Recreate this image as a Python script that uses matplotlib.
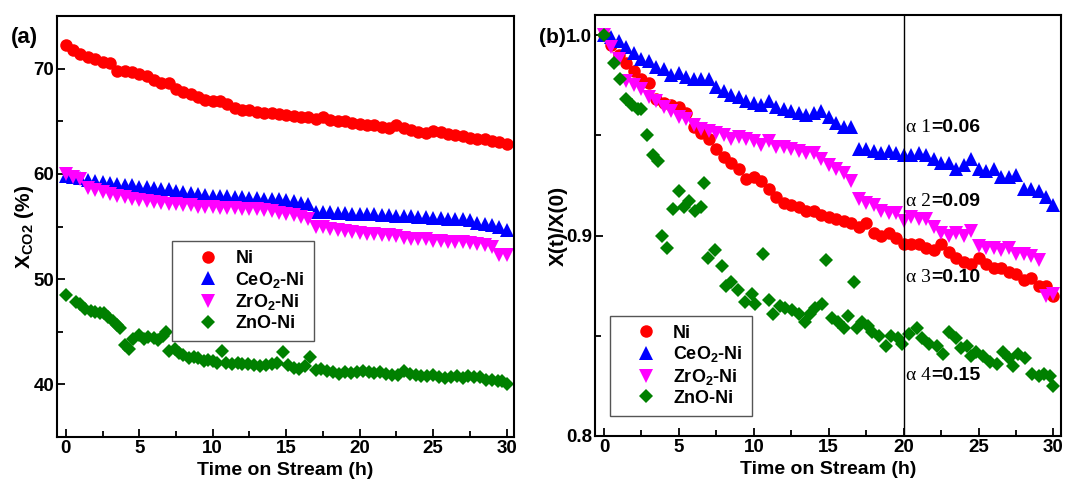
import matplotlib
matplotlib.use("Agg")
import matplotlib.pyplot as plt
from matplotlib.ticker import MultipleLocator

plt.rcParams["font.family"] = ["Liberation Sans", "DejaVu Sans"]
plt.rcParams["font.weight"] = "bold"
plt.rcParams["mathtext.default"] = "regular"

# temps commun (h), pas de 0.5 h
TIME = [0.0, 0.5, 1.0, 1.5, 2.0, 2.5, 3.0, 3.5, 4.0, 4.5, 5.0, 5.5, 6.0, 6.5,
        7.0, 7.5, 8.0, 8.5, 9.0, 9.5, 10.0, 10.5, 11.0, 11.5, 12.0, 12.5,
        13.0, 13.5, 14.0, 14.5, 15.0, 15.5, 16.0, 16.5, 17.0, 17.5, 18.0,
        18.5, 19.0, 19.5, 20.0, 20.5, 21.0, 21.5, 22.0, 22.5, 23.0, 23.5,
        24.0, 24.5, 25.0, 25.5, 26.0, 26.5, 27.0, 27.5, 28.0, 28.5, 29.0,
        29.5, 30.0]

LABELS = ["Ni", "CeO$_{2}$-Ni", "ZrO$_{2}$-Ni", "ZnO-Ni"]

# --- panneau (a) : conversion CO2 (%) ---
ni_a = [72.2, 71.8, 71.4, 71.1, 70.9, 70.6, 70.5, 69.8, 69.8, 69.7, 69.5,
        69.3, 68.9, 68.6, 68.6, 68.1, 67.8, 67.6, 67.3, 67.0, 66.9, 66.9,
        66.6, 66.3, 66.1, 66.1, 65.9, 65.8, 65.8, 65.7, 65.6, 65.5, 65.4,
        65.4, 65.2, 65.4, 65.1, 65.0, 65.0, 64.8, 64.7, 64.6, 64.6, 64.5,
        64.4, 64.6, 64.4, 64.2, 64.0, 63.9, 64.1, 64.0, 63.8, 63.7, 63.6,
        63.4, 63.3, 63.3, 63.1, 63.0, 62.8]
ceo2_a = [59.8, 59.7, 59.6, 59.4, 59.3, 59.2, 59.1, 59.0, 58.9, 58.9, 58.8,
          58.8, 58.7, 58.6, 58.6, 58.4, 58.3, 58.2, 58.1, 58.0, 57.9, 57.9,
          57.9, 57.8, 57.8, 57.7, 57.7, 57.6, 57.6, 57.6, 57.5, 57.4, 57.2,
          57.1, 56.4, 56.4, 56.4, 56.3, 56.3, 56.2, 56.2, 56.2, 56.2, 56.1,
          56.1, 56.0, 56.0, 56.0, 55.9, 55.9, 55.8, 55.8, 55.7, 55.7, 55.7,
          55.6, 55.3, 55.2, 55.1, 55.0, 54.7]
zro2_a = [60.0, 59.7, 59.5, 58.7, 58.5, 58.3, 58.1, 57.9, 57.8, 57.6, 57.5,
          57.4, 57.3, 57.2, 57.1, 57.1, 57.0, 57.0, 56.9, 56.9, 56.9, 56.8,
          56.8, 56.8, 56.7, 56.7, 56.7, 56.6, 56.5, 56.3, 56.2, 56.1, 55.9,
          55.7, 55.0, 55.0, 54.8, 54.7, 54.6, 54.5, 54.4, 54.3, 54.3, 54.2,
          54.2, 54.1, 53.9, 53.8, 53.8, 53.8, 53.6, 53.6, 53.5, 53.5, 53.5,
          53.4, 53.3, 53.2, 53.1, 52.3, 52.3]
TIME_ZNO_A = [0.0, 0.7, 1.0, 1.3, 1.7, 2.0, 2.3, 2.6, 2.9, 3.2, 3.5, 3.7,
              4.0, 4.3, 4.6, 5.0, 5.3, 5.6, 6.0, 6.3, 6.6, 6.8, 7.0, 7.4,
              7.7, 8.0, 8.4, 8.7, 9.0, 9.4, 9.7, 10.0, 10.3, 10.6, 10.9,
              11.3, 11.7, 12.0, 12.4, 12.8, 13.2, 13.6, 14.0, 14.4, 14.8,
              15.1, 15.5, 15.9, 16.3, 16.6, 17.0, 17.4, 17.8, 18.2, 18.6,
              19.0, 19.4, 19.8, 20.2, 20.6, 21.0, 21.4, 21.8, 22.2, 22.6,
              23.0, 23.4, 23.8, 24.2, 24.6, 25.0, 25.4, 25.8, 26.2, 26.6,
              27.0, 27.4, 27.8, 28.2, 28.6, 29.0, 29.4, 29.7, 30.0]
zno_a = [48.5, 47.8, 47.6, 47.2, 47.0, 46.9, 46.8, 46.8, 46.4, 46.0, 45.6,
         45.4, 43.7, 43.4, 44.3, 44.7, 44.3, 44.5, 44.4, 44.2, 44.6, 45.0,
         43.2, 43.4, 43.0, 42.8, 42.5, 42.6, 42.5, 42.2, 42.3, 42.2, 42.0,
         43.2, 42.0, 41.9, 42.0, 41.9, 41.9, 41.8, 41.7, 41.8, 41.9, 42.0,
         43.1, 41.8, 41.6, 41.5, 41.7, 42.6, 41.4, 41.5, 41.3, 41.2, 41.0,
         41.2, 41.1, 41.2, 41.3, 41.2, 41.1, 41.2, 41.0, 40.9, 40.9, 41.3,
         41.0, 40.9, 40.8, 40.8, 40.9, 40.7, 40.6, 40.7, 40.8, 40.6, 40.8,
         40.7, 40.7, 40.4, 40.4, 40.3, 40.3, 40.0]

# --- panneau (b) : conversion normalisee X(t)/X(0) ---
ni_b = [1.000, 0.995, 0.990, 0.986, 0.982, 0.978, 0.976, 0.968, 0.966,
        0.965, 0.964, 0.961, 0.954, 0.951, 0.948, 0.943, 0.939, 0.936,
        0.933, 0.928, 0.929, 0.927, 0.923, 0.919, 0.916, 0.915, 0.914,
        0.912, 0.912, 0.910, 0.909, 0.908, 0.907, 0.906, 0.904, 0.906,
        0.901, 0.900, 0.901, 0.899, 0.896, 0.896, 0.896, 0.894, 0.893,
        0.896, 0.892, 0.889, 0.887, 0.886, 0.889, 0.886, 0.884, 0.884,
        0.882, 0.881, 0.878, 0.879, 0.875, 0.875, 0.870]
ceo2_b = [1.000, 0.999, 0.997, 0.994, 0.991, 0.988, 0.987, 0.984, 0.983,
          0.980, 0.981, 0.979, 0.978, 0.978, 0.978, 0.974, 0.972, 0.970,
          0.969, 0.967, 0.966, 0.965, 0.967, 0.964, 0.963, 0.962, 0.961,
          0.960, 0.961, 0.962, 0.959, 0.956, 0.954, 0.954, 0.943, 0.943,
          0.942, 0.941, 0.942, 0.941, 0.940, 0.940, 0.941, 0.940, 0.938,
          0.936, 0.936, 0.933, 0.935, 0.938, 0.933, 0.932, 0.933, 0.929,
          0.929, 0.930, 0.923, 0.923, 0.922, 0.919, 0.915]
zro2_b = [1.000, 0.994, 0.988, 0.977, 0.975, 0.973, 0.969, 0.967, 0.964,
          0.962, 0.959, 0.958, 0.955, 0.953, 0.952, 0.951, 0.950, 0.948,
          0.949, 0.948, 0.947, 0.945, 0.947, 0.944, 0.944, 0.943, 0.942,
          0.941, 0.941, 0.938, 0.935, 0.933, 0.931, 0.927, 0.918, 0.916,
          0.915, 0.912, 0.911, 0.911, 0.907, 0.909, 0.908, 0.908, 0.904,
          0.901, 0.900, 0.901, 0.900, 0.902, 0.895, 0.894, 0.894, 0.893,
          0.894, 0.891, 0.891, 0.890, 0.888, 0.870, 0.871]
TIME_ZNO_B = [0.0, 0.67, 1.05, 1.45, 1.9, 2.25, 2.5, 2.85, 3.25, 3.6, 3.9,
              4.2, 4.6, 5.0, 5.35, 5.7, 6.05, 6.45, 6.7, 6.95, 7.4, 7.85,
              8.15, 8.5, 8.95, 9.4, 9.85, 10.1, 10.6, 11.0, 11.3, 11.75,
              12.1, 12.55, 13.0, 13.4, 13.75, 14.1, 14.55, 14.85, 15.2,
              15.65, 16.0, 16.3, 16.7, 16.9, 17.25, 17.6, 17.9, 18.35, 18.8,
              19.15, 19.6, 19.9, 20.35, 20.9, 21.25, 21.7, 22.25, 22.6,
              23.05, 23.5, 23.85, 24.2, 24.5, 24.85, 25.3, 25.75, 26.2,
              26.65, 27.0, 27.3, 27.65, 28.1, 28.55, 29.0, 29.35, 29.8, 30.0]
zno_b = [1.000, 0.986, 0.978, 0.968, 0.965, 0.963, 0.963, 0.950, 0.940,
         0.937, 0.900, 0.894, 0.913, 0.922, 0.914, 0.917, 0.912, 0.914,
         0.926, 0.889, 0.893, 0.885, 0.875, 0.877, 0.873, 0.867, 0.871,
         0.866, 0.891, 0.868, 0.861, 0.865, 0.864, 0.863, 0.861, 0.857,
         0.861, 0.864, 0.866, 0.888, 0.859, 0.857, 0.854, 0.860, 0.877,
         0.854, 0.857, 0.855, 0.852, 0.850, 0.845, 0.850, 0.849, 0.846,
         0.851, 0.854, 0.849, 0.846, 0.845, 0.841, 0.852, 0.849, 0.844,
         0.845, 0.840, 0.842, 0.840, 0.837, 0.836, 0.842, 0.839, 0.835,
         0.841, 0.839, 0.831, 0.830, 0.831, 0.830, 0.825]

ALPHA_NAMES = ["\u03b1 1", "\u03b1 2", "\u03b1 3", "\u03b1 4"]
ALPHA_VALUES = ["=0.06", "=0.09", "=0.10", "=0.15"]
ALPHA_Y = [0.954, 0.917, 0.879, 0.830]

COLORS = ["#ff0000", "#0000ff", "#ff00ff", "#008000"]
MARKERS = ["o", "^", "v", "D"]
SIZES = [9, 9.5, 9.5, 7.5]


def style_axes(ax):
    ax.tick_params(which="both", direction="in", labelsize=13.5, width=1.3,
                   top=False, right=False, pad=2)
    ax.tick_params(which="major", length=6)
    ax.tick_params(which="minor", length=4)
    for sp in ax.spines.values():
        sp.set_linewidth(1.5)
    ax.xaxis.set_major_locator(MultipleLocator(5))
    ax.xaxis.set_minor_locator(MultipleLocator(2.5))
    ax.set_xlim(-0.6, 30.5)
    ax.set_xlabel("Time on Stream (h)", fontsize=14, fontweight="bold",
                  labelpad=4)


def add_legend(ax, anchor):
    ax.legend(loc="lower left", bbox_to_anchor=anchor, fontsize=13,
              frameon=True, fancybox=False, edgecolor="#555555",
              framealpha=1, borderpad=0.5, labelspacing=0.15,
              handlelength=3, handletextpad=0.0, borderaxespad=0)


fig = plt.figure(figsize=(10.69, 4.8), dpi=100)
ax1 = fig.add_axes([0.0533, 0.0896, 0.4275, 0.877])
ax2 = fig.add_axes([0.5566, 0.0917, 0.4359, 0.8771])

# (a)
series_a = [(TIME, ni_a), (TIME, ceo2_a), (TIME, zro2_a), (TIME_ZNO_A, zno_a)]
for (t, y), lab, c, m, s in zip(series_a, LABELS, COLORS, MARKERS, SIZES):
    ax1.plot(t, y, linestyle="none", marker=m, color=c, markersize=s,
             markeredgewidth=0, label=lab)
style_axes(ax1)
ax1.set_ylim(35, 75)
ax1.yaxis.set_minor_locator(MultipleLocator(5))
ax1.set_yticks([40, 50, 60, 70])
ax1.set_ylabel("X$_{CO2}$ (%)", fontsize=15, fontweight="bold", labelpad=-2)
add_legend(ax1, (0.252, 0.228))

# (b)
series_b = [(TIME, ni_b), (TIME, ceo2_b), (TIME, zro2_b), (TIME_ZNO_B, zno_b)]
for (t, y), lab, c, m, s in zip(series_b, LABELS, COLORS, MARKERS, SIZES):
    ax2.plot(t, y, linestyle="none", marker=m, color=c, markersize=s,
             markeredgewidth=0, label=lab)
style_axes(ax2)
ax2.set_ylim(0.8, 1.01)
ax2.set_yticks([0.8, 0.9, 1.0])
ax2.yaxis.set_minor_locator(MultipleLocator(0.05))
ax2.set_ylabel("X(t)/X(0)", fontsize=15, fontweight="bold", labelpad=-1)
ax2.axvline(20, color="black", linewidth=1)
add_legend(ax2, (0.032, 0.048))

for name, val, y in zip(ALPHA_NAMES, ALPHA_VALUES, ALPHA_Y):
    t1 = ax2.text(20.15, y, name, fontsize=14, fontweight="normal",
                  family=["Liberation Serif", "DejaVu Serif"],
                  ha="left", va="center")
    ax2.annotate(val, xy=(1, 0), xycoords=t1, ha="left", va="bottom",
                 fontsize=14, fontweight="bold")

fig.text(0.010, 0.91, "(a)", fontsize=16, fontweight="bold")
fig.text(0.504, 0.91, "(b)", fontsize=15, fontweight="bold")

fig.savefig("out.png", dpi=100)
